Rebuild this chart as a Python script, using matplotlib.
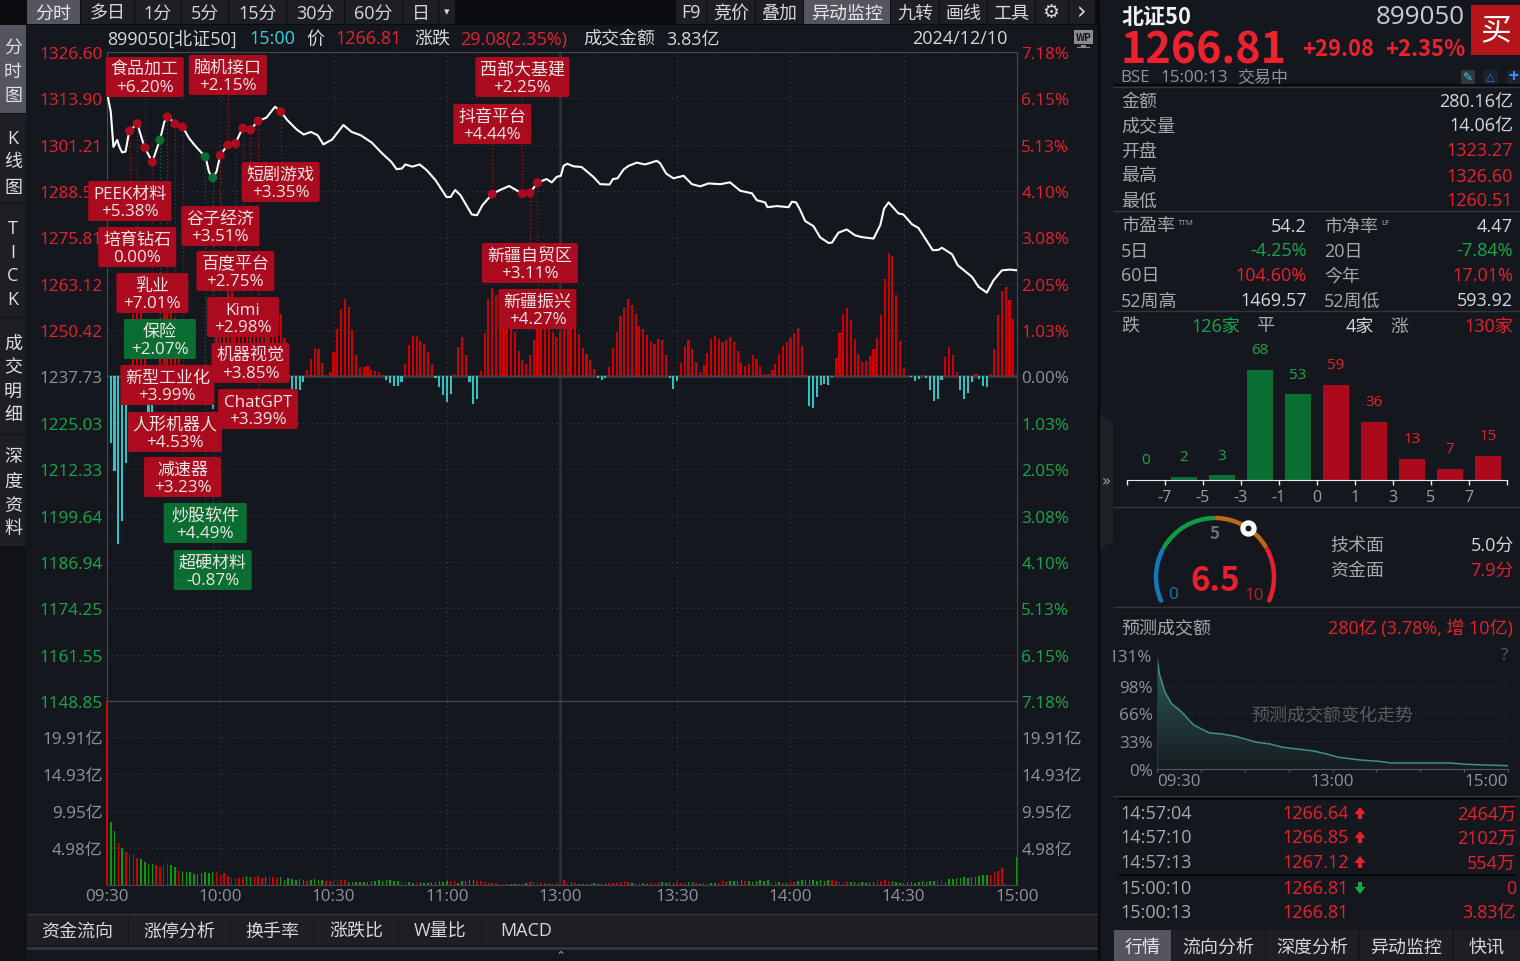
import numpy as np
import matplotlib
matplotlib.use("Agg")
import matplotlib.pyplot as plt
from matplotlib.patches import Rectangle, FancyBboxPatch, Arc, FancyArrow, Polygon
from matplotlib.transforms import Bbox

plt.rcParams['font.family'] = ['Open Sans', 'Noto Sans CJK SC', 'DejaVu Sans']

W, H = 1520, 962
BG = '#14171d'
CELL = '#1e1f25'
ACTIVE = '#54555f'
RED = '#e8202e'
GREEN = '#12a84a'
GREY = '#8f9296'
TEXT = '#d6d8da'
LABEL = '#a6a8aa'
GRID = '#3b3e44'
PILL_RED = '#ab0a1f'
PILL_GREEN = '#0a6e33'

##### data #####

price_levels = [1326.60, 1313.90, 1301.21, 1288.51, 1275.81, 1263.12, 1250.42, 1237.73,
                1225.03, 1212.33, 1199.64, 1186.94, 1174.25, 1161.55, 1148.85]
pct_labels = ['7.18%', '6.15%', '5.13%', '4.10%', '3.08%', '2.05%', '1.03%', '0.00%',
              '1.03%', '2.05%', '3.08%', '4.10%', '5.13%', '6.15%', '7.18%']
prev_close = 1237.73
time_ticks = [0, 30, 60, 90, 120, 151, 181, 211, 241]
time_labels = ['09:30', '10:00', '10:30', '11:00', '13:00', '13:30', '14:00', '14:30', '15:00']
vol_levels = [4.98, 9.95, 14.93, 19.91]
vol_labels = ['4.98亿', '9.95亿', '14.93亿', '19.91亿']

# price line, slot number (one per minute) and index level
line_slots = [0, 0.3, 1.0, 1.7, 2.7, 3.3, 4.0, 4.9, 5.9, 8.0, 9.9, 12.0, 14.0, 15.2, 16.1, 17.9, 20.0, 21.8, 23.2,
              26.1, 27.0, 27.9, 29.0, 30.0, 31.9, 34.0, 35.9, 37.9, 40.0, 42.2, 44.5, 45.9, 47.8, 50.2, 52.1, 54.0,
              55.8, 57.3, 59.6, 62.6, 64.8, 67.2, 70.1, 72.9, 75.3, 76.7, 78.1, 79.0, 80.9, 82.8, 84.7, 87.0, 89.9,
              91.0, 92.2, 93.6, 96.6, 98.0, 99.4, 102.1, 104.1, 106.5, 110.0, 112.0, 114.0, 116.4, 117.8, 119.1,
              120.2, 120.9, 121.9, 123.5, 125.7, 128.8, 130.6, 133.1, 134.0, 135.2, 136.8, 138.1, 140.3, 142.5,
              145.6, 146.5, 148.1, 150.0, 152.7, 154.9, 157.1, 159.3, 162.4, 165.0, 167.7, 170.8, 172.1, 174.3,
              174.9, 177.4, 180.5, 181.4, 182.5, 183.6, 184.9, 187.1, 188.9, 191.1, 192.0, 193.7, 195.9, 198.1,
              199.9, 203.0, 204.8, 205.8, 207.0, 209.6, 210.9, 213.2, 214.9, 218.7, 220.2, 221.1, 223.8, 225.3,
              229.1, 230.8, 233.0, 234.8, 237.0, 239.2, 241.0]
line_prices = [1323.3, 1313.9, 1310.2, 1300.6, 1302.5, 1300.6, 1299.1, 1299.3, 1304.9, 1307.0, 1300.6, 1296.5, 1302.5,
               1307.5, 1309.0, 1307.0, 1306.1, 1302.9, 1301.1, 1297.8, 1293.8, 1292.0, 1293.8, 1298.3, 1301.1, 1301.5,
               1305.8, 1305.2, 1307.7, 1308.6, 1311.6, 1310.4, 1307.9, 1305.4, 1304.0, 1304.7, 1303.8, 1301.3, 1302.6,
               1306.6, 1304.7, 1303.8, 1301.8, 1298.8, 1296.5, 1294.5, 1294.7, 1295.8, 1295.2, 1295.8, 1294.2, 1291.5,
               1286.9, 1286.9, 1288.8, 1287.4, 1282.1, 1281.9, 1284.6, 1287.8, 1288.8, 1289.9, 1287.8, 1288.0, 1290.8,
               1291.8, 1290.9, 1292.4, 1292.7, 1295.4, 1296.0, 1295.3, 1295.1, 1292.4, 1290.4, 1290.3, 1291.8, 1292.0,
               1294.4, 1295.4, 1296.3, 1295.8, 1296.8, 1296.1, 1293.3, 1292.0, 1292.7, 1290.4, 1289.8, 1290.6, 1290.4,
               1290.9, 1288.6, 1287.9, 1286.0, 1285.4, 1284.1, 1284.4, 1284.1, 1285.6, 1285.4, 1283.3, 1280.3, 1278.9,
               1275.8, 1274.3, 1274.4, 1277.1, 1278.0, 1276.4, 1275.9, 1275.5, 1279.2, 1283.7, 1285.4, 1282.4, 1282.1,
               1279.4, 1278.4, 1272.3, 1272.4, 1273.0, 1271.2, 1268.2, 1265.0, 1262.3, 1260.7, 1264.1, 1266.8, 1267.0,
               1266.8]

# red/cyan bars around the previous close, one per slot
flow_vals = [0, -18.3, -25.9, -45.9, -39.6, -23.8, -6.0, 17, 19, 18,
             6, -10, -11, -5, 16, 18, 19, 18, 16, 8,
             3, -3, -4, -3, -3, -3, -4, -5, -9, 11,
             15, 20, 24, 24, 20, 17, 15, 14, 13, 13,
             12, 12, 11, 11, 11, 12, 17, 10.6, 9,
             -3.3, -3.3, -3.6, -1.4, 1.9, 4.7, 7.9, 7.4, 3.8, 0.5, 1.1, 6.8, 13.1, 18.6, 21.1, 18.9, 12.6, 5.8,
             2.7, 2.7, 3.0, 1.9, 1.6, 1.1, 0.3, -1.1, -1.9, -2.5, -2.5, -1.4, 3.3, 8.5, 11.2, 11.0, 9.6, 9.0, 6.6,
             3.3, -0.5, -3.0, -5.2, -7.1, -4.9, 0.8, 8.2, 10.7, 6.0, -1.6, -7.4, -6.3, 1.4, 11.8, 21.1, 24.1, 22.2,
             18, 15.5, 15, 14, 12.1, 7.1, 4.4, 3.3, 5.8, 9.9, 13.1, 14,
             14, 14, 12.3, 10.7, 12.3, 14, 14, 14, 14, 11.6,
             7.8, 6.1, 4.6, 2.0, -0.3, -0.9, -0.5, 2.5, 7.8, 12.1,
             16.5, 18.7, 21.2, 19.5, 17.1, 13.8, 13.0, 11.3, 9.6, 8.9,
             10.3, 10.0, 5.8, -0.5, -3.4, -1.2, 3.7, 8.4, 10.0, 7.5,
             3.9, 1.2, 3.1, 6.4, 10.2, 11.0, 10.2, 9.4, 10.0, 10.8,
             9.4, 6.9, 3.7, 2.8, 3.4, 5.8, 4.7, 2.8, 0.6, 0.6,
             1.7, 3.4, 6.1, 8.3, 9.4, 10.5, 11.9, 13.2, 8.3, 0.3,
             -8.0, -8.7, -5.7, -2.3, -2.1, -2.3, -0.1, 5.0, 11.9, 17.1,
             18.7, 15.4, 10.2, 6.1, 3.9, 4.2, 5.6, 7.5, 10.5, 16.8,
             26.7, 33.8, 33.0, 22.3, 9.7, 2.3, 0, -0.1, -1.2, -0.7,
             0.3, -0.5, -3.7, -6.7, -6.1, -0.9, 5.3, 8.0, 5.8, 1.2,
             -3.7, -6.1, -4.6, -1.5, 0.6, -0.7, -2.6, -2.8, 0.6, 7.5,
             16.8, 23.4, 24.5, 20.9, 15.7]

# turnover per slot in 亿, positive = up (red), negative = down (green)
vol_vals = [24.8, -8.48, -7.27, 5.65, -4.98, 4.44, 4.17, 4.17, 3.63, -3.50, -3.10, -2.83, -2.83, 2.69, 2.42, 2.69,
            2.96, -2.69, -2.42, 1.88, -1.75, -1.75, -1.75, -1.48, -1.48, -1.61, -1.75, -1.61, -1.75, 1.75, 1.35,
            1.61, 1.21, 0.94, 0.94, 0.94, 1.08, -1.21, -1.08, 1.08, 1.21, 0.94, -1.08, 1.08, 1.08, 0.94, -1.08,
            -0.67, -0.94, -0.81, -0.67, -0.81, -0.67, 0.54, -0.67, -0.81, -0.67, -0.67, 0.54, 0.54, 0.54, 0.67,
            0.67, 0.67, -0.40, -0.40, -0.40, -0.40, -0.40, -0.40, -0.54, -0.54, -0.67, -0.54, -0.67, -0.67, -0.54,
            -0.54,
            0.49, 0.40, -0.40, -0.27, 0.27, -0.40, -0.27, -0.27, -0.40, -0.40, -0.54, -0.40, -0.54, 0.54, 0.54,
            -0.27, -0.54, -0.54, -0.67, -0.67, 0.54, 0.54, 0.40, 0.27, 0.27, 0.27, 0.13, 0.13, 0.13, -0.13, -0.13,
            -0.13, -0.13, -0.27, 0.40, 0.40, 0.40, 0.27, 0.27, -0.13, 0.13, 0.27, 0.13, 0.67, 0.27, -0.40, 0.27,
            -0.13, -0.13, -0.13, -0.13, -0.27, -0.13, -0.13, -0.27, 0.27, 0.27, 0.27, 0.40, 0.54, 0.40, -0.27, 0.27,
            0.27, -0.27, -0.13, 0.27, 0.27, 0.40, -0.40, -0.27, -0.40, -0.27, 0.40, 0.27, 0.27, -0.40, -0.40, 0.27,
            -0.13, 0.27, 0.13, -0.27, -0.27, 0.27,
            0.49, 0.40, -0.54, -0.54, -0.54, -0.67, 0.54, -0.54, -0.40, -0.54, -0.67, -0.54, -0.67, 0.40, 0.54,
            -0.40, 0.27, -0.27, 0.40, 0.40, -0.54, -0.67, -0.67, -0.67, -0.67, -0.54, -0.67, -0.54, -0.67, 0.67,
            0.54, 0.40, 0.40, 0.40, -0.40, -0.40, -0.27, -0.40, -0.27, -0.40, -0.40, 0.67, 0.54, 0.67, 0.54, -0.54,
            -0.40, -0.27, -0.27, -0.40, -0.40, -0.27, -0.40, -0.54, -0.40, -0.54, -0.54, 0.67, 0.67, -0.40, -0.81,
            -0.81, -0.94, -0.94, -1.08, -0.94, -1.08, -1.08, -1.21, -1.35, -1.35, 1.35, 1.75, 1.88, 2.29, 0.27,
            0, 0, -3.83]

# concept tags on the price line
event_slots = [10, 32, 110, 102, 112, 114, 46, 6, 30, 8, 34, 12, 14, 36, 38, 16, 40, 18, 20, 26, 28]
event_names = ['食品加工', '脑机接口', '西部大基建', '抖音平台', '新疆自贸区', '新疆振兴', '短剧游戏', 'PEEK材料',
               '谷子经济', '培育钻石', '百度平台', '乳业', '保险', 'Kimi', '机器视觉', '新型工业化', 'ChatGPT',
               '人形机器人', '减速器', '炒股软件', '超硬材料']
event_changes = ['+6.20%', '+2.15%', '+2.25%', '+4.44%', '+3.11%', '+4.27%', '+3.35%', '+5.38%',
                 '+3.51%', '0.00%', '+2.75%', '+7.01%', '+2.07%', '+2.98%', '+3.85%', '+3.99%', '+3.39%',
                 '+4.53%', '+3.23%', '+4.49%', '-0.87%']
event_falling = ['保险', '炒股软件', '超硬材料']
# pill layout in pixels, same order as the tags
pill_tops = [58, 56, 58, 105, 244, 290, 163, 182, 207, 228, 252, 274, 320, 298, 344, 366, 390, 413, 458, 504, 551]
pill_widths = [78, 78, 94, 78, 96, 78, 78, 83, 78, 78, 78, 72, 72, 72, 78, 94, 80, 94, 77, 83, 78]

# rise/fall distribution
dist_counts = [0, 2, 3, 68, 53, 59, 36, 13, 7, 15]
dist_tick_labels = ['', '-7', '-5', '-3', '-1', '0', '1', '3', '5', '7', '']

# forecast turnover curve
fc_slots = [0, 1.6, 5.5, 10, 15.7, 19, 25, 30.5, 36, 44, 54.4, 68, 77, 86, 107, 116, 124, 139, 152, 160, 200, 211.6, 225, 240]
fc_pct = [131.6, 112, 90, 76.6, 68.8, 62.9, 51.9, 47, 42.4, 41.3, 38.1, 31.4, 29.5, 25.5, 21.2, 17.7, 13.8, 10.6, 9, 7.1,
          7.1, 5.5, 4.7, 3.9]
fc_ticks = [0, 33, 66, 98]

gauge_score = 6.5
gauge_edges = [(0, 2.24), (2.38, 4.93), (5.07, 7.6), (7.73, 10)]
gauge_colors = ['#1478b8', '#0f9a48', '#bd6a10', '#e8202e']

quote_rows = [('金额', '280.16亿', TEXT), ('成交量', '14.06亿', TEXT), ('开盘', '1323.27', RED),
              ('最高', '1326.60', RED), ('最低', '1260.51', RED)]
stat_rows = [('市盈率', '54.2', TEXT, '市净率', '4.47', TEXT), ('5日', '-4.25%', GREEN, '20日', '-7.84%', GREEN),
             ('60日', '104.60%', RED, '今年', '17.01%', RED), ('52周高', '1469.57', TEXT, '52周低', '593.92', TEXT)]
tick_times = ['14:57:04', '14:57:10', '14:57:13', '15:00:10', '15:00:13']
tick_prices = ['1266.64', '1266.85', '1267.12', '1266.81', '1266.81']
tick_amounts = ['2464万', '2102万', '554万', '0', '3.83亿']
tick_moves = [1, 1, 1, -1, 0]

##### layout #####

fig = plt.figure(figsize=(W / 100, H / 100), dpi=100, facecolor=BG)


def px_axes(left, top, right, bottom, **kw):
    ax = fig.add_axes([left / W, 1 - bottom / H, (right - left) / W, (bottom - top) / H], **kw)
    ax.set_facecolor(BG)
    return ax


def pt(px):
    return px * 0.72


def style_grid(ax):
    ax.grid(True, color=GRID, lw=0.8, dashes=(1, 3))
    ax.set_axisbelow(True)
    ax.tick_params(length=0)


##### price pane #####

ax = px_axes(107, 53, 1017, 702)
ax.set_xlim(0, 241)
ax.set_ylim(price_levels[-1], price_levels[0])
ax.set_xticks(time_ticks)
ax.set_xticklabels([])
ax.set_yticks(price_levels)
ax.set_yticklabels(['%.2f' % v for v in price_levels], fontsize=pt(17), color=GREY)
ax.tick_params(axis='y', pad=3)
style_grid(ax)
for lab, v in zip(ax.get_yticklabels(), price_levels):
    lab.set_color(RED if v > prev_close else GREEN if v < prev_close else GREY)
for s in ax.spines.values():
    s.set_color('#44474d')
ax.axvline(120, color='#2f3137', lw=1.8, zorder=1)
ax.axhline(prev_close, color='#3d4046', lw=1.8, zorder=1)

flow = np.array(flow_vals)
ax.bar(np.arange(len(flow)), flow, bottom=prev_close, width=0.56, zorder=2,
       color=['#cc0005' if v > 0 else '#2fc4c4' for v in flow])
ax.plot(line_slots, line_prices, color='white', lw=1.5, zorder=3, solid_joinstyle='round')

event_prices = np.interp(event_slots, line_slots, line_prices)
event_colors = [PILL_GREEN if n in event_falling else PILL_RED for n in event_names]
ax.scatter(event_slots, event_prices, s=pt(9) ** 2, c=event_colors, zorder=4, linewidths=0)

ax_r = ax.twinx()
ax_r.set_ylim(ax.get_ylim())
ax_r.set_yticks(price_levels)
ax_r.set_yticklabels(pct_labels, fontsize=pt(17))
ax_r.tick_params(length=0, pad=3)
for lab, v in zip(ax_r.get_yticklabels(), price_levels):
    lab.set_color(RED if v > prev_close else GREEN if v < prev_close else GREY)
for s in ax_r.spines.values():
    s.set_visible(False)

##### turnover pane #####

vax = px_axes(107, 702, 1017, 886)
vax.set_xlim(0, 241)
vax.set_ylim(0, 24.77)
vax.set_xticks(time_ticks)
vax.set_xticklabels(time_labels, fontsize=pt(17), color=GREY)
vax.set_yticks(vol_levels)
vax.set_yticklabels(vol_labels, fontsize=pt(17), color=GREY)
vax.tick_params(axis='y', pad=3)
vax.tick_params(axis='x', pad=2)
style_grid(vax)
for s in vax.spines.values():
    s.set_color('#44474d')
vax.axvline(120, color='#2f3137', lw=1.8, zorder=1)
vols = np.array(vol_vals)
vax.bar(np.arange(len(vols)), np.abs(vols), width=0.4, zorder=2,
        color=['#d00000' if v > 0 else '#0a9a0a' for v in vols], clip_on=False)

vax_r = vax.twinx()
vax_r.set_ylim(vax.get_ylim())
vax_r.set_yticks(vol_levels)
vax_r.set_yticklabels(vol_labels, fontsize=pt(17), color=GREY)
vax_r.tick_params(length=0, pad=3)
for s in vax_r.spines.values():
    s.set_visible(False)

##### overlay with toolbars, tags and the text panel #####

ov = fig.add_axes([0, 0, 1, 1], zorder=5)
ov.set_xlim(0, W)
ov.set_ylim(H, 0)
ov.axis('off')


def txt(x, y, s, size=17, color=TEXT, ha='left', weight='normal', **kw):
    # bold only exists in the CJK family here
    if weight == 'bold' and 'family' not in kw:
        kw['family'] = ['Noto Sans CJK SC', 'DejaVu Sans']
    return ov.text(x, y + 1.5, s, fontsize=pt(size), color=color, ha=ha, va='center', weight=weight, **kw)


def box(x0, y0, x1, y1, color, z=1):
    ov.add_patch(Rectangle((x0, y0), x1 - x0, y1 - y0, facecolor=color, edgecolor='none', zorder=z))


def hline(y, x0=1113, x1=W, color='#33363b', lw=1):
    ov.plot([x0, x1], [y, y], color=color, lw=lw, solid_capstyle='butt')


def cell_row(cells, top, bottom, size=18, active=None, y=None):
    for left, right, label in cells:
        on = label == active
        box(left, top, right, bottom, ACTIVE if on else CELL)
        txt((left + right) / 2, y or (top + bottom) / 2, label, size, '#e8e8e8' if on else TEXT, ha='center')


# top toolbar
box(0, 0, 1098, 26, '#0b0c0f', 0)
cell_row([(27, 80, '分时'), (81, 134, '多日'), (135, 181, '1分'), (182, 228, '5分'), (229, 286, '15分'),
          (287, 344, '30分'), (345, 402, '60分'), (403, 438, '日')], 0, 25, active='分时', y=12)
box(439, 0, 455, 25, CELL)
txt(447, 11, '▾', 11, TEXT, ha='center', family='DejaVu Sans')
cell_row([(676, 706, 'F9'), (707, 755, '竞价'), (756, 803, '叠加'), (804, 890, '异动监控'), (891, 939, '九转'),
          (940, 987, '画线'), (988, 1035, '工具'), (1036, 1068, ''), (1069, 1095, '')], 0, 25, active='异动监控', y=12)
txt(1051, 11, '⚙', 19, TEXT, ha='center', family='DejaVu Sans')
txt(1082, 11, '›', 24, TEXT, ha='center', family='DejaVu Sans')

# left tabs
box(0, 26, 26, H, '#101216', 0)
side_tabs = [(26, 114, '分时图', [46, 70, 95], True), (115, 204, 'K线图', [137, 161, 186], False),
             (205, 318, 'TICK', [227, 251, 275, 299], False), (319, 435, '成交明细', [342, 366, 390, 414], False),
             (436, 547, '深度资料', [456, 480, 504, 528], False)]
for top, bottom, label, ys, on in side_tabs:
    box(0, top, 26, bottom, ACTIVE if on else CELL)
    for ch, y in zip(label, ys):
        txt(13, y, ch, 18, '#e0e0e0', ha='center')

# quote header
txt(107, 38, '899050[北证50]', 18, TEXT)
txt(249, 38, '15:00', 18, '#35d0e0')
txt(306, 38, '价', 18, TEXT)
txt(335, 38, '1266.81', 18, RED)
txt(414, 38, '涨跌', 18, TEXT)
txt(460, 38, '29.08(2.35%)', 18, RED)
txt(583, 38, '成交金额', 18, TEXT)
txt(666, 38, '3.83亿', 18, TEXT)
txt(912, 38, '2024/12/10', 18, TEXT)
box(1074, 31, 1093, 45, '#8a8c90')
txt(1083.5, 36.5, 'WP', 10, '#14171d', ha='center', weight='bold')
box(1081, 46, 1086, 48, '#8a8c90')
box(1077, 48, 1090, 49, '#8a8c90')

# bottom tabs
hline(915, 27, 1098, '#33363b')
cell_row([(27, 128, '资金流向'), (129, 230, '涨停分析'), (231, 314, '换手率'), (315, 398, '涨跌比'),
          (399, 482, 'W量比'), (483, 569, 'MACD')], 916, 946, y=930)
box(569, 916, 1098, 946, CELL)
box(27, 948, 1098, 951, '#33353a')
box(1098, 0, 1100, H, '#08090b', 2)
ov.add_patch(Polygon([(1100, 415), (1113, 423), (1113, 542), (1100, 550)], facecolor='#202126', edgecolor='none'))
txt(1106, 480, '»', 15, '#a0a0a0', ha='center', family='DejaVu Sans')
txt(561, 955, '⌃', 12, '#a0a0a0', ha='center', family='DejaVu Sans')

# connector lines and tags
for slot, price, name, change, top, width, color in zip(event_slots, event_prices, event_names, event_changes,
                                                        pill_tops, pill_widths, event_colors):
    dx, dy = ax.transData.transform((slot, price))
    dy = H - dy
    end = top + 40 if top + 40 < dy else top
    ov.plot([dx, dx], [dy, end], color=color, lw=0.9, dashes=(1, 2), zorder=2)
    ov.add_patch(FancyBboxPatch((dx - width / 2, top), width, 40, boxstyle='round,pad=0,rounding_size=2',
                                facecolor=color, edgecolor='none', zorder=3))
    ov.text(dx, top + 13, name, fontsize=pt(17), color='#f0e6e6', ha='center', va='center', zorder=4)
    ov.text(dx, top + 30, change, fontsize=pt(17), color='#f0e6e6', ha='center', va='center', zorder=4)

# right panel head
txt(1122, 16, '北证50', 22, '#f0f0f0', weight='bold')
txt(1465, 16, '899050', 26, '#c8ccd2', ha='right')
box(1471, 6, 1520, 56, '#b5151a')
txt(1495.5, 30, '买', 31, 'white', ha='center')
txt(1120, 49, '1266.81', 43, '#f0212f', weight='bold')
txt(1302, 48, '+29.08', 22, '#f0212f', weight='bold')
txt(1465, 48, '+2.35%', 22, '#f0212f', ha='right', weight='bold')
txt(1120, 77, 'BSE', 17, GREY)
txt(1160, 77, '15:00:13', 17, GREY)
txt(1237, 77, '交易中', 17, GREY)
box(1461, 71, 1475, 85, '#33363b')
txt(1468, 76, '✎', 12, '#35d0e0', ha='center', family='DejaVu Sans')
box(1483, 71, 1498, 85, '#1c2230')
txt(1490.5, 76, '△', 11, '#3a78c8', ha='center', family='DejaVu Sans')
box(1507, 71, 1520, 85, '#1c2230')
txt(1513, 76, '+', 17, '#3a90f0', ha='center', weight='bold')
hline(86, color='#08090b', lw=1.5)
hline(88, color='#33363b')

for y, (name, value, color) in zip([100, 125, 150, 175, 200], quote_rows):
    txt(1121, y, name, 18, LABEL)
    txt(1513, y, value, 18, color, ha='right')
hline(212)
for y, (n1, v1, c1, n2, v2, c2) in zip([225, 250, 275, 300], stat_rows):
    txt(1121, y, n1, 18, LABEL)
    txt(1307, y, v1, 18, c1, ha='right')
    txt(1324, y, n2, 18, LABEL)
    txt(1513, y, v2, 18, c2, ha='right')
txt(1178, 222, 'TTM', 8, LABEL)
txt(1381, 222, 'LF', 8, LABEL)
hline(312)
txt(1121, 325, '跌', 18, LABEL)
txt(1240, 325, '126家', 18, GREEN, ha='right')
txt(1256, 325, '平', 18, LABEL)
txt(1374, 325, '4家', 18, TEXT, ha='right')
txt(1390, 325, '涨', 18, LABEL)
txt(1513, 325, '130家', 18, RED, ha='right')

# distribution bars
dax = px_axes(1127, 340, 1507, 481)
dax.set_xlim(0, 10)
dax.set_ylim(0, 141 / 1.618)
dist_x = np.arange(len(dist_counts)) + 0.5
dist_colors = [PILL_GREEN] * 5 + ['#ab0a1c'] * 5
dax.bar(dist_x, dist_counts, width=0.684, color=dist_colors)
for x, n, i in zip(dist_x, dist_counts, range(10)):
    dax.annotate(str(n), (x, n), xytext=(0, pt(20)), textcoords='offset points', ha='center', va='center',
                 fontsize=pt(15), color=GREEN if i < 5 else RED)
dax.set_xticks(np.arange(11))
dax.set_xticklabels(dist_tick_labels, fontsize=pt(16), color='#9aa0a8')
dax.tick_params(axis='x', length=pt(5), color='#e8e8e8', width=1, pad=3)
dax.set_yticks([])
for side in ['top', 'left', 'right']:
    dax.spines[side].set_visible(False)
dax.spines['bottom'].set_color('#e8e8e8')
hline(508)

# gauge
gax = px_axes(1215 - 70, 578 - 70, 1215 + 70, 578 + 70)
gax.set_xlim(-70, 70)
gax.set_ylim(-70, 70)
gax.axis('off')


def score_angle(score):
    return 203.6 - score * 22.7


for (lo, hi), color in zip(gauge_edges, gauge_colors):
    gax.add_patch(Arc((0, 0), 118, 118, theta1=score_angle(hi), theta2=score_angle(lo), lw=3.2, color=color,
                      capstyle='round'))
knob = np.radians(score_angle(gauge_score))
gax.plot(59 * np.cos(knob), 59 * np.sin(knob), 'o', ms=pt(15), color='white', zorder=5)
gax.plot(59 * np.cos(knob), 59 * np.sin(knob), 'o', ms=pt(4.5), color=BG, zorder=6)
txt(1215, 580, '%.1f' % gauge_score, 33, RED, ha='center', weight='bold')
txt(1215, 533, '5', 17, '#6d6f74', ha='center', weight='bold')
txt(1173, 594, '0', 17, '#1478b8', ha='center')
txt(1254, 595, '10', 17, '#b0202c', ha='center')
txt(1330, 544, '技术面', 18, LABEL)
txt(1330, 569, '资金面', 18, LABEL)
txt(1514, 544, '5.0分', 18, TEXT, ha='right')
txt(1514, 569, '7.9分', 18, RED, ha='right')
hline(608)

# forecast turnover
txt(1121, 627, '预测成交额', 18, LABEL)
txt(1513, 627, '280亿 (3.78%, 增 10亿)', 18, RED, ha='right')
fax = px_axes(1157, 658, 1508, 770)
fax.set_xlim(0, 240)
fax.set_ylim(0, 131.6)
fax.set_yticks(fc_ticks)
fax.set_yticklabels(['%d%%' % v for v in fc_ticks], fontsize=pt(17), color=GREY)
fax.set_xticks(np.arange(0, 241, 30))
fax.set_xticklabels(['09:30', '', '', '', '13:00', '', '', '', '15:00'], fontsize=pt(17), color=GREY)
fax.get_xticklabels()[0].set_ha('left')
fax.get_xticklabels()[-1].set_ha('right')
fax.tick_params(axis='y', length=0, pad=3)
fax.tick_params(axis='x', length=pt(3), color='#55585e', pad=1)
fax.grid(True, axis='y', color=GRID, lw=0.8, dashes=(1, 3))
fax.set_axisbelow(True)
for side in ['top', 'right']:
    fax.spines[side].set_visible(False)
fax.spines['left'].set_color('#2a3a3a')
fax.spines['bottom'].set_color('#55585e')
shade = fax.imshow(np.linspace(0, 1, 120).reshape(-1, 1), extent=(0, 240, 0, 131.6), origin='lower', aspect='auto',
                   cmap=matplotlib.colors.LinearSegmentedColormap.from_list('fc', ['#171c20', '#2c5c5a']), zorder=1)
fc_poly = Polygon(list(zip(fc_slots, fc_pct)) + [(240, 0), (0, 0)], transform=fax.transData, facecolor='none',
                  edgecolor='none')
fax.add_patch(fc_poly)
shade.set_clip_path(fc_poly)
fax.plot(fc_slots, fc_pct, color='#3f8f8a', lw=1.1, zorder=2)
txt(1332, 714, '预测成交额变化走势', 18, '#5a5c60', ha='center')
txt(1508, 655, '?', 17, '#5a5c60', ha='right')
t131 = txt(1152, 657, '131%', 17, GREY, ha='right')
t131.set_clip_on(True)
t131.set_clip_box(Bbox([[1113, 0], [1160, H]]))
hline(797)

# tick table
hline(800, 1118, 1516, '#050607', 1.2)
hline(876, 1118, 1516, '#050607', 1.2)
for y, t, p, a, move in zip([813, 837, 862, 888, 912], tick_times, tick_prices, tick_amounts, tick_moves):
    txt(1120, y, t, 18, LABEL)
    txt(1282, y, p, 18, RED)
    txt(1516, y, a, 18, RED, ha='right')
    if move > 0:
        ov.add_patch(FancyArrow(1360, y + 7, 0, -12, width=4, head_width=11, head_length=7,
                                length_includes_head=True, color=RED, lw=0))
    elif move < 0:
        ov.add_patch(FancyArrow(1360, y - 5, 0, 12, width=4, head_width=11, head_length=7,
                                length_includes_head=True, color=GREEN, lw=0))
cell_row([(1114, 1171, '行情'), (1172, 1265, '流向分析'), (1266, 1358, '深度分析'), (1360, 1452, '异动监控'),
          (1454, 1520, '快讯')], 931, H, active='行情', y=946)

fig.savefig('out.png', dpi=100, facecolor=BG)
